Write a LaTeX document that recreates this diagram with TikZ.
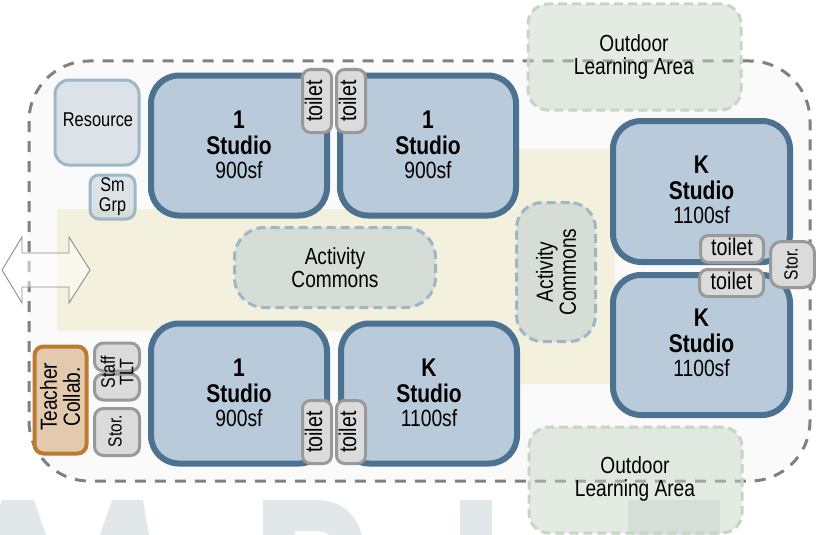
\documentclass[tikz,border=0pt]{standalone}
\usepackage{fontspec}
\setmainfont[FakeStretch=0.82]{Liberation Sans}
\usepackage{xcolor}
\usetikzlibrary{calc}
\definecolor{studioline}{HTML}{4D7191}
\definecolor{studiofill}{HTML}{B9CBDB}
\definecolor{softblue}{HTML}{9DB6C8}
\definecolor{softgreen}{HTML}{C7D5C5}
\definecolor{bandfill}{HTML}{F3F0DE}
\definecolor{markfill}{HTML}{E2E7E9}
\definecolor{collabline}{HTML}{BD7B32}
\definecolor{collabfill}{HTML}{E3C9AE}
\newcommand{\sizetext}[2][24]{\fontsize{#2}{#1}\selectfont}
\newcommand{\studiotext}[2]{#1\\[2pt] Studio\\ {\sizetext{23.5}\mdseries #2}}
\tikzset{
  boxsize/.style 2 args={minimum width=#1pt, minimum height=#2pt},
  room/.style={draw, rounded corners=9pt, inner sep=0pt, outer sep=0pt, align=center},
  studio/.style={room, draw=studioline, fill=studiofill, line width=6pt, rounded corners=28pt, boxsize={176}{140}, font=\sizetext{25.6}\bfseries},
  toilet/.style={room, draw=black!40, fill=black!14, line width=3pt, font=\sizetext{24}},
  support/.style={room, draw=softblue, fill=softblue, fill opacity=.33, text opacity=1, line width=3pt},
  commons/.style={support, dash pattern=on 9pt off 5pt, rounded corners=30pt, font={\sizetext[22.5]{23.3}}},
  outdoor/.style={room, draw=softgreen, fill=softgreen, fill opacity=.48, line width=3pt, dash pattern=on 9pt off 5pt, rounded corners=20pt, boxsize={213}{106}},
  outdoorlabel/.style={align=center, inner sep=0pt, font={\sizetext[23]{23.3}}},
}
\begin{document}
\begin{tikzpicture}[x=1pt,y=-1pt]
\useasboundingbox (0,0) rectangle (816,535);
% faded lettering along the bottom edge
\fill[markfill] (2,500) -- (34,500) -- (46,535) -- (0,535) -- (0,505) -- cycle;
\fill[markfill] (112,500) -- (143,500) -- (149,535) -- (100,535) -- cycle;
\fill[markfill] (263,500) -- (315,500) .. controls (340,500) and (355,512) .. (362,535) -- (330,535)
  .. controls (327,533) and (320,531) .. (313,531) -- (295,531) -- (295,535) -- (263,535) -- cycle;
\fill[markfill] (460,500) rectangle (492,535);
\fill[markfill] (628,500) rectangle (720,535);
% building outline and circulation
\draw[black!50, fill=black!2, line width=3pt, dash pattern=on 11pt off 9pt, rounded corners=60pt] (29,61) rectangle (810,481);
\fill[bandfill] (57,209) -- (515,209) -- (515,149) -- (612,149) -- (612,209) -- (615,209) -- (615,331)
  -- (612,331) -- (612,384) -- (515,384) -- (515,331) -- (57,331) -- cycle;
% outdoor
\node[outdoor] (outdoorN) at (634.5,57) {};
\node[outdoor] (outdoorS) at (635.5,480) {};
\node[outdoorlabel] (outdoorNlabel) at (634,56.5) {Outdoor\\Learning Area};
\node[outdoorlabel] (outdoorSlabel) at (635,479) {Outdoor\\Learning Area};
% studios
\node[studio, text depth=2pt] (studioA) at (239,145.5) {\studiotext{1}{900sf}};
\node[studio, text depth=2pt] (studioB) at (428,145.5) {\studiotext{1}{900sf}};
\node[studio, text depth=1pt] (studioC) at (239,393.5) {\studiotext{1}{900sf}};
\node[studio, text depth=1pt] (studioD) at (429,393.5) {\studiotext{K}{1100sf}};
\node[studio, boxsize={177}{141}, text depth=4pt] (studioE) at (701.5,191.5) {\studiotext{K}{1100sf}};
\node[studio, boxsize={177}{140}, text depth=4pt] (studioF) at (701.5,345) {\studiotext{K}{1100sf}};
% commons
\node[commons, boxsize={201}{80}] (commonsH) at (335,267.5) {Activity\\Commons};
\node[commons, boxsize={79}{139}, rounded corners=26pt] (commonsV) at (556,272) {};
\node[outdoorlabel, rotate=90] (commonsVlabel) at (556,272) {Activity\\Commons};
% support rooms
\node[support, boxsize={84}{85}, rounded corners=14pt, font=\sizetext{20}, text depth=5pt] (resource) at (97,122.5) {\hspace{2pt}Resource};
\node[support, boxsize={45}{44}, font={\sizetext[20]{19.8}}] (smgrp) at (112.5,197) {Sm\\Grp};
\node[room, draw=collabline, fill=collabfill, line width=4pt, boxsize={52}{107}] (collab) at (60.5,400) {};
\node[outdoorlabel, rotate=90] (collablabel) at (60,397) {Teacher\\Collab.};
\node[toilet, boxsize={45}{28}] (staffA) at (117,357) {};
\node[toilet, boxsize={45}{26}] (staffB) at (117,387) {};
\node[outdoorlabel, rotate=90, font={\sizetext[18.5]{19.5}}] (stafflabel) at (117,372) {Staff\\TLT};
\node[toilet, boxsize={45}{47}] (storW) at (117,432) {};
\node[outdoorlabel, rotate=90, font=\sizetext{19}] (storWlabel) at (115,431) {Stor.};
% toilets
\node[toilet, boxsize={29}{63}, rounded corners=8pt] (toiletA) at (317,101) {};
\node[toilet, boxsize={29}{63}, rounded corners=8pt] (toiletB) at (351,101) {};
\node[toilet, boxsize={29}{63}, rounded corners=8pt] (toiletC) at (317,432) {};
\node[toilet, boxsize={29}{63}, rounded corners=8pt] (toiletD) at (351,432) {};
\foreach \nm in {toiletA,toiletB,toiletC,toiletD}
  \node[rotate=90, inner sep=0pt, font=\sizetext{24}, yshift=3.5pt] at (\nm) {toilet};
\node[toilet, boxsize={63}{27}, rounded corners=8pt, text depth=4pt] (toiletE) at (732,249) {toilet};
\node[toilet, boxsize={64}{27}, rounded corners=8pt, text depth=4pt] (toiletF) at (731.5,283) {toilet};
\node[toilet, boxsize={44}{46}, rounded corners=11pt] (storE) at (792.5,264.5) {};
\node[outdoorlabel, rotate=90, font=\sizetext{19}] (storElabel) at (791,264) {Stor.};
% way in
\draw[black!45, fill=white, fill opacity=.5, line width=.9pt] (2,270) -- (22,237) -- (22,253) -- (69,253) -- (69,237)
  -- (90,270) -- (69,303) -- (69,287) -- (22,287) -- (22,303) -- cycle;
\end{tikzpicture}
\end{document}
